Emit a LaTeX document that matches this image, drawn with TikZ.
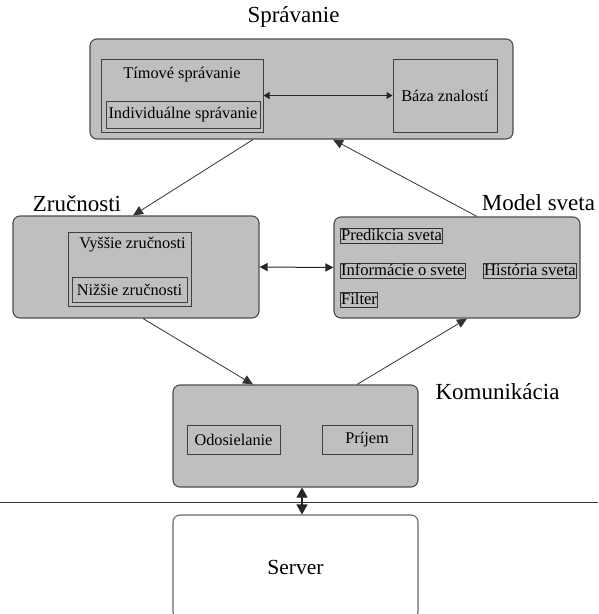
\documentclass[tikz,border=0pt]{standalone}
\usepackage{fontspec}
\setmainfont{Liberation Serif}
\usetikzlibrary{arrows.meta}
\begin{document}
\begin{tikzpicture}[x=1pt,y=-1pt,
  module/.style={draw=black!70, fill=black!25, rounded corners=7pt, line width=1.1pt},
  serverbox/.style={draw=black!60, fill=white, rounded corners=7pt, line width=1.1pt},
  inner/.style={draw=black!75, line width=1pt, inner sep=0pt},
  txt/.style={font=\fontsize{16.3}{17}\selectfont},
  tag/.style={draw=black!80, line width=0.9pt, inner sep=0.6pt, text height=11.5pt, text depth=2pt,
    font=\fontsize{16.6}{17}\selectfont},
  title/.style={font=\fontsize{23}{24}\selectfont, inner sep=0pt},
  conn/.style={draw=black!80, line width=0.8pt, -{Triangle[length=10pt,width=9pt]}},
  twoway/.style={draw=black!85, line width=1pt, {Triangle[length=6pt,width=7pt]}-{Triangle[length=6pt,width=7pt]}},
  twowaybig/.style={draw=black!85, line width=1pt, {Triangle[length=8pt,width=8pt]}-{Triangle[length=8pt,width=8pt]}}
]
\useasboundingbox (0,0) rectangle (598,614);

% Správanie
\node[module, minimum width=423pt, minimum height=100pt] (sprav) at (301.5,89) {};
\node[title] (spravt) at (293.5,17) {Správanie};
\node[inner, minimum width=162pt, minimum height=73pt] (tim) at (182,95.5) {};
\node[txt] (timt) at (182,75) {Tímové správanie};
\node[inner, minimum width=154pt, minimum height=27pt, txt] (ind) at (183,114.5) {Individuálne správanie};
\node[inner, minimum width=104pt, minimum height=73pt, txt] (baza) at (445,95.5) {Báza znalostí};
\draw[twoway] (tim.east) -- (baza.west);

% Zručnosti
\node[module, minimum width=246pt, minimum height=102pt] (zruc) at (136,267) {};
\node[title] (zruct) at (77,204) {Zručnosti};
\node[inner, minimum width=123pt, minimum height=74pt] (vys) at (129.5,269) {};
\node[txt] (vyst) at (132.5,245) {Vyššie zručnosti};
\node[inner, minimum width=115pt, minimum height=25pt, txt] (niz) at (129.5,289.5) {Nižšie zručnosti};

% Model sveta
\node[module, minimum width=246pt, minimum height=101pt] (model) at (457,267.5) {};
\node[title] (modelt) at (538.5,203) {Model sveta};
\node[tag, anchor=west] (pred) at (340,236) {Predikcia sveta};
\node[tag, anchor=west] (info) at (340,271) {Informácie o svete};
\node[tag, anchor=west] (hist) at (483,271) {História sveta};
\node[tag, anchor=west] (filt) at (340,300) {Filter};
\draw[twowaybig] (zruc.east) -- (model.west);

% Komunikácia
\node[module, minimum width=245pt, minimum height=102pt] (kom) at (295.5,436) {};
\node[title] (komt) at (497.5,392) {Komunikácia};
\node[inner, minimum width=93pt, minimum height=29pt, txt] (odos) at (233.5,439.5) {Odosielanie};
\node[inner, minimum width=90pt, minimum height=29pt, txt] (prij) at (367,439.5) {Príjem};

% Server
\node[serverbox, minimum width=245pt, minimum height=104pt, font=\fontsize{21.5}{22}\selectfont] (srv) at (295.5,567) {Server};
\coordinate (sepL) at (0,502);
\coordinate (sepR) at (598,502);
\draw[draw=black!80, line width=1pt] (sepL) -- (sepR);

% connections between modules
\draw[conn] ([xshift=-48.5pt]sprav.south) -- ([xshift=-3pt]zruc.north);
\draw[conn] ([xshift=20pt]model.north) -- ([xshift=31.5pt]sprav.south);
\draw[conn] ([xshift=7pt]zruc.south) -- ([xshift=-42.5pt]kom.north);
\draw[conn] ([xshift=61.5pt]kom.north) -- ([xshift=10pt]model.south);
\draw[draw=black!85, line width=1.1pt, {Triangle[length=10pt,width=11pt]}-{Triangle[length=10pt,width=11pt]}] ([xshift=6.5pt]kom.south) -- ([xshift=6.5pt]srv.north);
\end{tikzpicture}
\end{document}
